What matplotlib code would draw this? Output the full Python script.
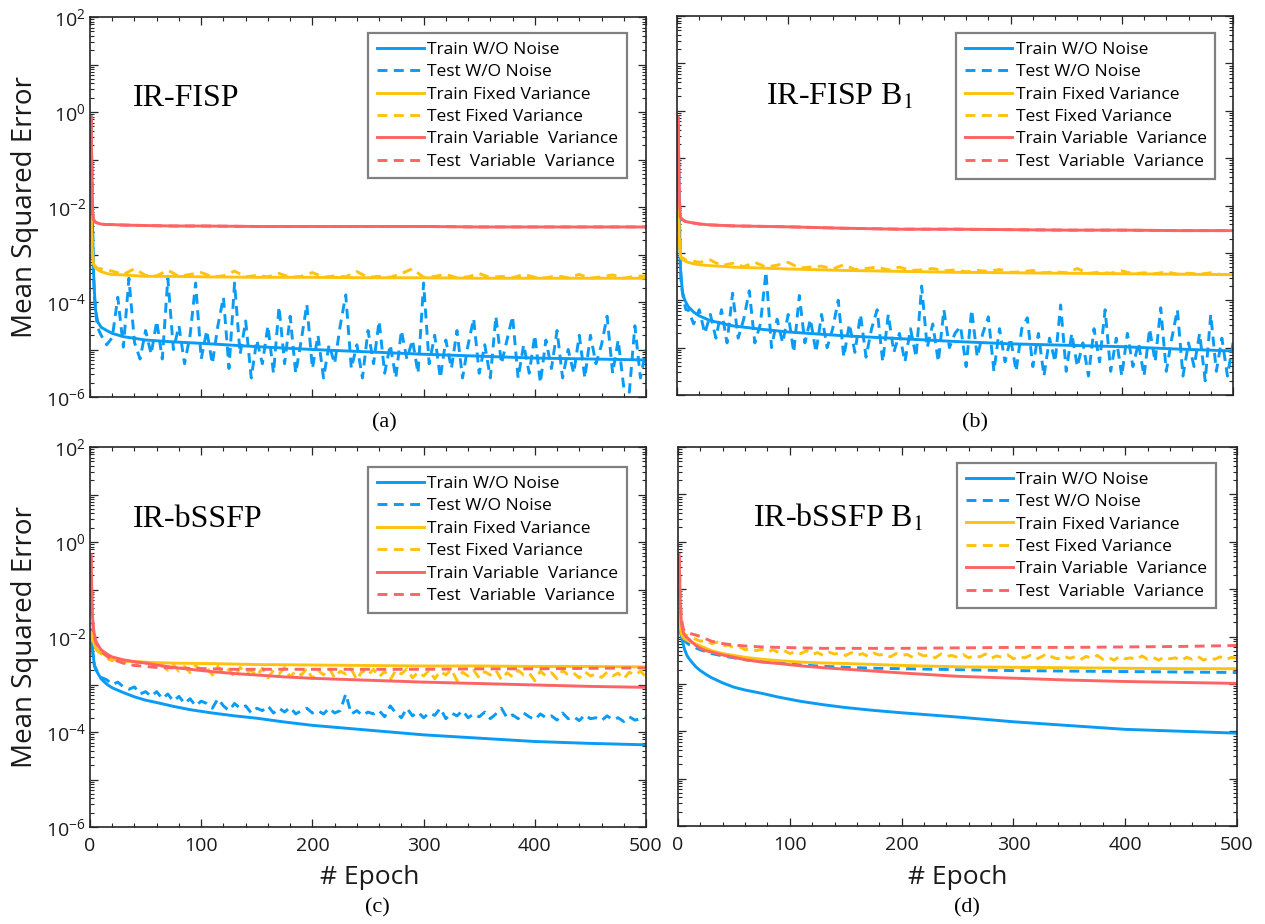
import numpy as np
import matplotlib
matplotlib.use('Agg')
import matplotlib.pyplot as plt
from matplotlib.ticker import FixedLocator, NullFormatter, MultipleLocator

plt.rcParams['font.family'] = ['Open Sans', 'DejaVu Sans']
plt.rcParams['mathtext.fontset'] = 'stix'

# ---------------- data (values stored as log10(MSE)) -------------
EP_SPARSE = [1, 2, 3, 4, 5, 7, 10, 15, 20, 30, 50, 75, 100, 150, 200, 250, 300, 350, 400, 450, 500]
EP_FINE = [1, 2, 3, 4, 5, 6, 8, 10, 13, 16, 20, 25, 30, 40, 50, 60, 75, 90, 110, 130, 150, 175,
           200, 250, 300, 350, 400, 450, 500]
EP_DENSE = [1, 2, 3, 4, 6, 8] + list(range(10, 501, 5))
EP_MID = [1, 2, 3, 4, 6, 8] + list(range(10, 501, 10))

# panel (a) IR-FISP
a_train_wo = [-0.1, -2.0, -3.26, -3.8, -4.17, -4.42, -4.53, -4.6, -4.66, -4.73, -4.8, -4.84, -4.87,
              -4.94, -5.0, -5.05, -5.1, -5.14, -5.18, -5.2, -5.22]
a_test_wo = [-0.1, -2.0, -3.3, -3.9, -4.4, -4.6,
             -4.7, -4.9, -4.75, -3.9, -4.95, -3.5, -4.85, -5.2, -4.6, -5.1,
             -4.4, -5.2, -3.5, -5.0, -4.5, -5.3, -4.7, -3.6, -5.2, -4.6,
             -5.3, -4.5, -3.9, -5.4, -3.6, -5.1, -4.4, -5.6, -4.8, -5.3,
             -4.5, -5.5, -4.1, -5.3, -4.3, -5.5, -4.8, -4.05, -5.4, -4.7,
             -5.6, -4.9, -5.3, -4.5, -3.85, -5.4, -4.9, -5.6, -4.6, -5.3,
             -4.4, -5.5, -4.9, -5.6, -4.6, -5.2, -4.8, -5.5, -3.6, -5.3,
             -4.7, -5.6, -4.8, -5.4, -4.6, -5.6, -4.9, -4.35, -5.5, -4.9,
             -5.6, -4.3, -5.3, -4.8, -4.3, -5.6, -4.9, -5.5, -4.7, -5.7,
             -4.8, -5.4, -4.6, -5.6, -5.0, -5.5, -4.7, -5.6, -4.7, -5.3,
             -4.9, -4.3, -5.5, -4.8, -5.8, -5.9, -4.5, -5.6, -5.0]
a_train_fixed = [-2.2, -2.9, -3.18, -3.25, -3.28, -3.32, -3.36, -3.4, -3.42, -3.43, -3.46, -3.46,
                 -3.47, -3.48, -3.48, -3.49, -3.49, -3.5, -3.5, -3.5, -3.5]
a_test_fixed = [-2.2, -2.9, -3.18, -3.22, -3.28, -3.3,
                -3.3, -3.35, -3.42, -3.3, -3.44, -3.45, -3.33, -3.46, -3.42, -3.38,
                -3.47, -3.45, -3.35, -3.47, -3.44, -3.47, -3.4, -3.48, -3.46, -3.38,
                -3.48, -3.45, -3.47, -3.36, -3.48, -3.46, -3.48, -3.4, -3.3, -3.48,
                -3.46, -3.42, -3.49, -3.47, -3.4, -3.49, -3.46, -3.49, -3.42, -3.48,
                -3.49, -3.45, -3.49, -3.42, -3.5, -3.47, -3.43, -3.5, -3.46, -3.45]
a_train_var = [-0.1, -2.0, -2.25, -2.3, -2.32, -2.34, -2.36, -2.37, -2.37, -2.38, -2.39, -2.4, -2.4,
               -2.41, -2.41, -2.41, -2.41, -2.42, -2.42, -2.42, -2.42]
a_test_var = a_train_var

# panel (b) IR-FISP B1
b_train_wo = [-0.3, -2.0, -3.27, -3.6, -3.84, -4.0, -4.13, -4.25, -4.33, -4.43, -4.54, -4.61, -4.67,
              -4.75, -4.81, -4.87, -4.92, -4.95, -4.98, -5.03, -5.07]
b_test_wo = [-0.3, -2.0, -3.3, -3.7, -4.0, -4.2,
             -4.2, -4.5, -4.2, -4.7, -4.3, -4.8, -4.2, -4.9, -3.85,
             -4.8, -4.4, -3.8, -4.9, -4.5, -3.4, -5.0, -4.4, -4.9, -4.3,
             -5.1, -3.9, -4.9, -4.4, -5.1, -4.3, -5.0, -4.6, -4.0, -5.2,
             -4.5, -5.1, -4.3, -5.2, -4.6, -4.2, -5.3, -4.3, -5.1, -4.7,
             -5.3, -4.6, -5.2, -3.7, -5.0, -4.5, -5.3, -4.2, -5.0, -4.7,
             -4.55, -5.4, -4.2, -5.2, -4.7, -4.35, -5.5, -4.6, -5.3, -4.8,
             -5.5, -4.6, -4.37, -5.4, -4.7, -5.6, -4.8, -5.3, -4.1, -5.5,
             -4.7, -5.4, -4.9, -5.6, -4.6, -5.3, -4.2, -5.5, -4.8, -5.6,
             -4.7, -5.4, -4.9, -5.6, -4.6, -5.3, -4.16, -5.5, -4.8, -4.2,
             -5.6, -4.9, -5.4, -4.7, -5.7, -4.3, -5.5, -4.8, -5.6, -4.9]
b_train_fixed = [-1.65, -2.7, -3.06, -3.12, -3.14, -3.17, -3.2, -3.23, -3.25, -3.27, -3.3, -3.32,
                 -3.34, -3.37, -3.39, -3.41, -3.42, -3.43, -3.44, -3.45, -3.46]
b_test_fixed = [-1.65, -2.7, -3.06, -3.1, -3.12, -3.15,
                -3.15, -3.2, -3.15, -3.27, -3.22, -3.29, -3.2, -3.3, -3.26, -3.2,
                -3.32, -3.3, -3.28, -3.34, -3.25, -3.35, -3.33, -3.3, -3.36, -3.3,
                -3.37, -3.36, -3.33, -3.38, -3.36, -3.4, -3.37, -3.39, -3.35, -3.41,
                -3.4, -3.37, -3.42, -3.4, -3.42, -3.33, -3.43, -3.41, -3.43, -3.38,
                -3.44, -3.42, -3.44, -3.4, -3.45, -3.43, -3.45, -3.42, -3.46, -3.45]
b_train_var = [-0.13, -1.8, -2.24, -2.28, -2.3, -2.33, -2.35, -2.37, -2.39, -2.41, -2.43, -2.44,
               -2.45, -2.48, -2.5, -2.5, -2.51, -2.52, -2.52, -2.53, -2.53]
b_test_var = b_train_var

# panel (c) IR-bSSFP  (solid/smooth series on EP_FINE)
c_train_wo = [-1.85, -2.2, -2.42, -2.6, -2.68, -2.72, -2.8, -2.88, -2.95, -3.01, -3.07, -3.12, -3.17,
              -3.26, -3.33, -3.38, -3.46, -3.53, -3.6, -3.66, -3.71, -3.79, -3.86, -3.96, -4.06,
              -4.13, -4.2, -4.24, -4.27]
c_test_wo = [-1.85, -2.2, -2.45, -2.6, -2.7, -2.8,
             -2.85, -2.9, -3.0, -2.95, -3.05, -3.1, -3.05, -3.2, -3.15,
             -3.25, -3.15, -3.3, -3.2, -3.35, -3.25, -3.4, -3.3, -3.45, -3.35,
             -3.4, -3.5, -3.3, -3.45, -3.55, -3.4, -3.5, -3.45, -3.6, -3.5,
             -3.55, -3.45, -3.6, -3.5, -3.58, -3.48, -3.62, -3.55, -3.5, -3.6,
             -3.55, -3.62, -3.5, -3.6, -3.55, -3.2, -3.62, -3.55, -3.65, -3.58,
             -3.62, -3.55, -3.68, -3.45, -3.6, -3.7, -3.5, -3.66, -3.58, -3.7,
             -3.6, -3.65, -3.5, -3.72, -3.6, -3.66, -3.55, -3.7, -3.62, -3.68,
             -3.58, -3.72, -3.62, -3.5, -3.7, -3.64, -3.72, -3.6, -3.68, -3.74,
             -3.62, -3.7, -3.66, -3.75, -3.6, -3.72, -3.68, -3.76, -3.64, -3.72,
             -3.7, -3.76, -3.66, -3.74, -3.7, -3.78, -3.68, -3.75, -3.72, -3.7]
c_train_fixed = [-1.9, -2.0, -2.1, -2.17, -2.22, -2.25, -2.29, -2.32, -2.37, -2.41, -2.45, -2.48,
                 -2.5, -2.52, -2.53, -2.54, -2.55, -2.555, -2.56, -2.57, -2.58, -2.585, -2.59,
                 -2.6, -2.61, -2.61, -2.62, -2.62, -2.63]
c_test_fixed = [-1.9, -2.05, -2.15, -2.2, -2.28, -2.32,
                -2.35, -2.45, -2.5, -2.42, -2.55, -2.5, -2.6, -2.52, -2.58,
                -2.55, -2.68, -2.6, -2.7, -2.58, -2.72, -2.62, -2.75, -2.6, -2.7,
                -2.65, -2.8, -2.62, -2.78, -2.68, -2.85, -2.64, -2.76, -2.7, -2.82,
                -2.66, -2.86, -2.7, -2.78, -2.64, -2.84, -2.72, -2.8, -2.66, -2.88,
                -2.7, -2.8, -2.66, -2.86, -2.72, -2.78, -2.68, -2.9, -2.7, -2.8,
                -2.68, -2.84, -2.72, -2.9, -2.7, -2.78, -2.67, -2.86, -2.74, -2.82,
                -2.7, -2.88, -2.72, -2.8, -2.68, -2.92, -2.74, -2.82, -2.7, -2.86,
                -2.73, -2.8, -2.7, -2.9, -2.75, -2.84, -2.7, -2.8, -2.76, -2.92,
                -2.72, -2.82, -2.75, -2.88, -2.7, -2.8, -2.76, -2.86, -2.73, -2.82,
                -2.78, -2.85, -2.74, -2.82, -2.76, -2.88, -2.74, -2.8, -2.72, -2.84]
c_train_var = [-0.27, -1.5, -1.8, -1.95, -2.06, -2.12, -2.2, -2.27, -2.32, -2.37, -2.42, -2.45,
               -2.48, -2.52, -2.55, -2.59, -2.64, -2.68, -2.73, -2.77, -2.8, -2.84, -2.87, -2.91,
               -2.95, -2.98, -3.01, -3.04, -3.06]
c_test_var = [-0.3, -1.5, -1.85, -2.0, -2.1, -2.15, -2.22, -2.3, -2.36, -2.42, -2.47, -2.51, -2.55,
              -2.6, -2.62, -2.64, -2.65, -2.66, -2.67, -2.68, -2.68, -2.68, -2.68, -2.68, -2.68,
              -2.67, -2.67, -2.66, -2.65]

# panel (d) IR-bSSFP B1  (solid/smooth series on EP_FINE)
d_train_wo = [-1.7, -1.9, -2.0, -2.1, -2.2, -2.28, -2.4, -2.47, -2.56, -2.64, -2.72, -2.8, -2.87,
              -2.98, -3.07, -3.13, -3.2, -3.28, -3.37, -3.44, -3.5, -3.56, -3.61, -3.7, -3.8,
              -3.88, -3.96, -4.0, -4.04]
d_test_wo = [-1.7, -1.85, -1.95, -2.0, -2.05, -2.09, -2.14, -2.17, -2.2, -2.24, -2.28, -2.32, -2.36,
             -2.41, -2.45, -2.49, -2.53, -2.56, -2.6, -2.63, -2.65, -2.67, -2.68, -2.7, -2.72,
             -2.73, -2.74, -2.75, -2.76]
d_train_fixed = [-1.5, -1.8, -1.95, -2.0, -2.03, -2.05, -2.08, -2.1, -2.13, -2.16, -2.2, -2.25,
                 -2.3, -2.36, -2.4, -2.44, -2.48, -2.51, -2.54, -2.56, -2.57, -2.59, -2.61, -2.64,
                 -2.65, -2.66, -2.67, -2.68, -2.68]
d_test_fixed = [-1.5, -1.75, -1.85, -1.9, -1.95, -1.98,
                -2.0, -2.05, -2.1, -2.08, -2.15, -2.12, -2.2, -2.18, -2.24,
                -2.22, -2.28, -2.25, -2.3, -2.27, -2.33, -2.28, -2.34, -2.3, -2.36,
                -2.32, -2.36, -2.3, -2.38, -2.34, -2.4, -2.33, -2.37, -2.35, -2.4,
                -2.34, -2.4, -2.36, -2.42, -2.35, -2.39, -2.37, -2.43, -2.36, -2.4,
                -2.38, -2.44, -2.36, -2.41, -2.39, -2.45, -2.37, -2.42, -2.4, -2.44,
                -2.38, -2.45, -2.4, -2.43, -2.37, -2.46, -2.41, -2.44, -2.39, -2.47,
                -2.42, -2.45, -2.4, -2.48, -2.43, -2.36, -2.44, -2.47, -2.41, -2.46,
                -2.43, -2.49, -2.42, -2.46, -2.4, -2.48, -2.44, -2.5, -2.42, -2.47,
                -2.45, -2.49, -2.41, -2.48, -2.44, -2.5, -2.43, -2.47, -2.45, -2.51,
                -2.44, -2.48, -2.42, -2.5, -2.45, -2.48, -2.43, -2.49, -2.44, -2.46]
d_train_var = [-0.27, -1.3, -1.7, -1.85, -1.93, -1.97, -2.02, -2.06, -2.13, -2.19, -2.25, -2.3,
               -2.33, -2.39, -2.44, -2.49, -2.54, -2.57, -2.62, -2.66, -2.69, -2.73, -2.77, -2.84,
               -2.88, -2.92, -2.95, -2.97, -2.99]
d_test_var = [-0.3, -1.2, -1.6, -1.75, -1.85, -1.88, -1.91, -1.93, -1.95, -1.97, -2.0, -2.05, -2.1,
              -2.15, -2.18, -2.2, -2.22, -2.23, -2.24, -2.25, -2.25, -2.25, -2.25, -2.24, -2.23,
              -2.23, -2.22, -2.21, -2.19]

LEGEND_LABELS = ['Train W/O Noise', 'Test W/O Noise', 'Train Fixed Variance',
                 'Test Fixed Variance', 'Train Variable  Variance', 'Test  Variable  Variance']
TITLES = ['IR-FISP', 'IR-FISP B$_1$', 'IR-bSSFP', 'IR-bSSFP B$_1$']
PANEL_TAGS = ['(a)', '(b)', '(c)', '(d)']
X_TICKS = [0, 100, 200, 300, 400, 500]
Y_TICKS = [1e-6, 1e-5, 1e-4, 1e-3, 1e-2, 1e-1, 1e0, 1e1, 1e2]
Y_TICK_LABELS = [r'$\mathregular{10^{-6}}$', '', r'$\mathregular{10^{-4}}$', '',
                 r'$\mathregular{10^{-2}}$', '', r'$\mathregular{10^{0}}$', '',
                 r'$\mathregular{10^{2}}$']

panels = [
    [(EP_SPARSE, a_train_wo), (EP_DENSE, a_test_wo), (EP_SPARSE, a_train_fixed),
     (EP_MID, a_test_fixed), (EP_SPARSE, a_train_var), (EP_SPARSE, a_test_var)],
    [(EP_SPARSE, b_train_wo), (EP_DENSE, b_test_wo), (EP_SPARSE, b_train_fixed),
     (EP_MID, b_test_fixed), (EP_SPARSE, b_train_var), (EP_SPARSE, b_test_var)],
    [(EP_FINE, c_train_wo), (EP_DENSE, c_test_wo), (EP_FINE, c_train_fixed),
     (EP_DENSE, c_test_fixed), (EP_FINE, c_train_var), (EP_FINE, c_test_var)],
    [(EP_FINE, d_train_wo), (EP_FINE, d_test_wo), (EP_FINE, d_train_fixed),
     (EP_DENSE, d_test_fixed), (EP_FINE, d_train_var), (EP_FINE, d_test_var)],
]

# ---------------- style ----------------
BLUE, YELLOW, RED = '#0A9BF5', '#FFC20E', '#FF6464'
COLORS = [BLUE, BLUE, YELLOW, YELLOW, RED, RED]
STYLES = ['-', '--', '-', '--', '-', '--']
SPINE = '#262626'

W, H = 1265, 924
fig = plt.figure(figsize=(W / 100, H / 100), dpi=100)

# axes boxes in pixels: left, top, right, bottom
boxes = [(90, 17, 646, 397), (677, 16, 1233, 395), (90, 447, 646, 827), (678, 447, 1237, 826)]
title_pos = [(0.077, 0.766), (0.16, 0.766), (0.077, 0.79), (0.134, 0.79)]
legend_anchor = [(0.966, 0.958), (0.968, 0.955), (0.966, 0.947), (0.962, 0.958)]
tag_pos = [(384, 423), (975, 423), (377, 908), (967, 908)]

for i, (l, t, r, b) in enumerate(boxes):
    ax = fig.add_axes([l / W, 1 - b / H, (r - l) / W, (b - t) / H])
    for j, (ep, vals) in enumerate(panels[i]):
        ls = STYLES[j]
        kw = dict(color=COLORS[j], lw=2.1, solid_joinstyle='miter')
        if ls == '--':
            kw['dashes'] = (3.4, 2.2)
        ax.plot(ep, np.power(10.0, np.asarray(vals)), ls, label=LEGEND_LABELS[j], **kw)
    ax.set_yscale('log')
    ax.set_xlim(0, 500)
    ax.set_ylim(1e-6, 1e2)
    ax.yaxis.set_major_locator(FixedLocator(Y_TICKS))
    minor = [m * 10.0 ** e for e in range(-6, 2) for m in range(2, 10)]
    ax.yaxis.set_minor_locator(FixedLocator(minor))
    ax.yaxis.set_minor_formatter(NullFormatter())
    ax.xaxis.set_major_locator(FixedLocator(X_TICKS))
    ax.xaxis.set_minor_locator(MultipleLocator(20))
    if i % 2 == 0:
        ax.set_yticklabels(Y_TICK_LABELS)
    else:
        ax.set_yticklabels([''] * len(Y_TICKS))
    if i >= 2:
        ax.set_xticklabels([str(v) for v in X_TICKS])
    else:
        ax.set_xticklabels([''] * len(X_TICKS))
    ax.tick_params(which='both', direction='in', top=True, right=True, color=SPINE,
                   labelsize=14, labelcolor='#1a1a1a')
    ax.tick_params(which='major', length=5.5, width=0.9)
    ax.tick_params(which='minor', length=2.8, width=0.8)
    ax.tick_params(axis='x', pad=7)
    ax.tick_params(axis='y', pad=3)
    for s in ax.spines.values():
        s.set_color(SPINE)
        s.set_linewidth(1.2)
    ax.text(title_pos[i][0], title_pos[i][1], TITLES[i], transform=ax.transAxes,
            fontsize=23, family='Liberation Serif', ha='left', va='baseline', color='black')
    leg = ax.legend(loc='upper right', bbox_to_anchor=legend_anchor[i], fontsize=12.5,
                    frameon=True, fancybox=False, framealpha=1, edgecolor='#808080',
                    handlelength=2.7, handletextpad=0.2, labelspacing=0.36,
                    borderpad=0.5, borderaxespad=0)
    leg.get_frame().set_linewidth(1.6)
    fig.text(tag_pos[i][0] / W, 1 - tag_pos[i][1] / H, PANEL_TAGS[i], fontsize=16,
             family='Liberation Serif', ha='center', va='center')

for yc in [(17 + 397) / 2, (447 + 827) / 2]:
    fig.text(25 / W, 1 - yc / H, 'Mean Squared Error', rotation=90, fontsize=20,
             ha='center', va='center', color='#1a1a1a')
for xc in [370, 958]:
    fig.text(xc / W, 1 - 877 / H, '# Epoch', fontsize=19, ha='center', va='center',
             color='#1a1a1a')

fig.savefig('out.png', dpi=100)
